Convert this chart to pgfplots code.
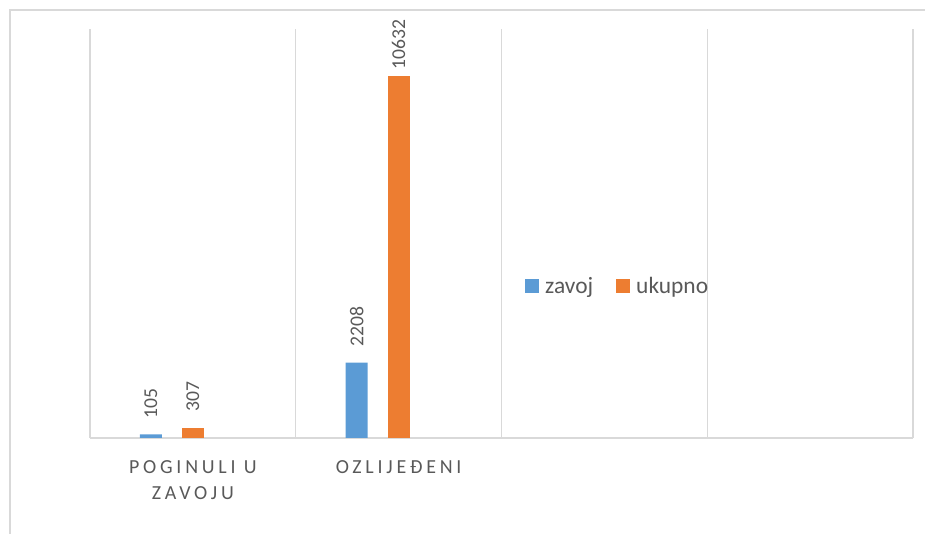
\documentclass[border=0pt]{standalone}
\usepackage{pgfplots}
\pgfplotsset{compat=1.18}
\usepackage{fontspec}
\setmainfont{Carlito}
\definecolor{zblue}{HTML}{5B9BD5}
\definecolor{zorange}{HTML}{ED7D31}
\definecolor{gridc}{HTML}{D9D9D9}
\definecolor{txt}{HTML}{595959}
\begin{document}
\begin{tikzpicture}[x=1bp,y=1bp]
\useasboundingbox (0,0) rectangle (925,534);
\draw[gridc, line width=1.3bp] (10,0) -- (10,524) -- (925,524);
\begin{axis}[
  at={(90bp,96bp)}, anchor=south west,
  scale only axis, width=823bp, height=409bp,
  ybar, bar width=22bp,
  xmin=-0.5, xmax=3.5, ymin=0, ymax=12000,
  scaled y ticks=false,
  /pgf/number format/.cd, 1000 sep={}, assume math mode=true, /pgfplots/.cd,
  axis line style={draw=none},
  xtick={0,1},
  xticklabels={{POGINULI U\\ZAVOJU},{OZLIJEĐENI}},
  minor xtick={-0.5,0.5,1.5,2.5,3.5},
  xminorgrids,
  minor grid style={gridc, line width=1.3bp},
  ytick={0}, yticklabels={}, ymajorgrids,
  major grid style={gridc, line width=1.3bp},
  major tick length=0pt, minor tick length=0pt,
  xticklabel style={anchor=north, inner sep=0pt, yshift=-22bp, align=center, text=txt,
    font=\fontsize{20}{26}\selectfont\addfontfeature{LetterSpace=19}},
  legend style={at={(0.5286,0.3716)}, anchor=west, draw=none, fill=none, inner sep=0pt,
    font=\fontsize{23.5}{26}\selectfont, text=txt, legend columns=2,
    nodes={inner sep=0pt},
    /tikz/every odd column/.append style={column sep=6bp},
    /tikz/every even column/.append style={column sep=23bp}},
  legend image code/.code={\fill[#1] (0bp,-7bp) rectangle (14bp,7bp);},
  nodes near coords={\pgfmathprintnumber{\pgfplotspointmeta}},
  every node near coord/.append style={rotate=90, anchor=west, text=txt,
    font=\fontsize{19.7}{22}\selectfont, inner sep=0pt, inner xsep=16bp},
]
\addplot[bar shift=-42bp, fill=zblue, draw=none]
  coordinates {(0,105) (1,2208)};
\addlegendentry{zavoj}
\addplot[bar shift=0bp, fill=zorange, draw=none]
  coordinates {(0,307)};
\addlegendentry{ukupno}
\addplot[bar shift=0bp, fill=zorange, draw=none,
  forget plot, every node near coord/.append style={inner xsep=6bp}]
  coordinates {(1,10632)};
\end{axis}
\end{tikzpicture}
\end{document}
